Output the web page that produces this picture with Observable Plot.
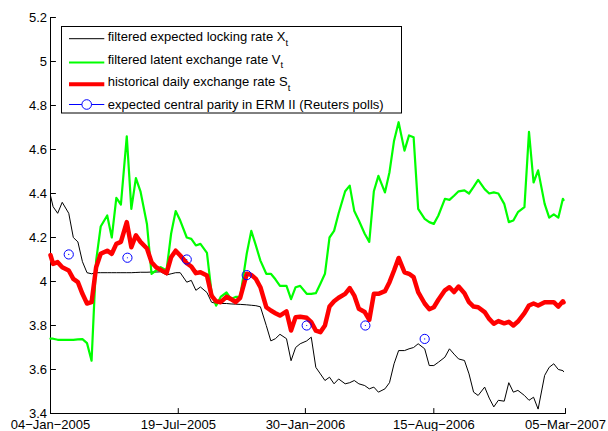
<!DOCTYPE html>
<html><head><meta charset="utf-8">
<script src="https://cdn.jsdelivr.net/npm/d3@7"></script>
<script src="https://cdn.jsdelivr.net/npm/@observablehq/plot@0.6"></script>
<style>
body{margin:0;background:#fff;}
#chart{position:relative;width:608px;height:431px;overflow:hidden;}
</style></head><body><div id="chart"></div>
<script>
const dates = [
"2005-01-04","2005-01-08","2005-01-15","2005-01-22",
"2005-02-01","2005-02-08","2005-02-15","2005-02-22",
"2005-03-01","2005-03-08","2005-03-15","2005-03-22",
"2005-04-01","2005-04-08","2005-04-15","2005-04-22",
"2005-05-01","2005-05-08","2005-05-15","2005-05-22",
"2005-06-01","2005-06-08","2005-06-15","2005-06-22",
"2005-07-01","2005-07-08","2005-07-15","2005-07-22",
"2005-08-01","2005-08-08","2005-08-15","2005-08-22",
"2005-09-01","2005-09-08","2005-09-15","2005-09-22",
"2005-10-01","2005-10-08","2005-10-15","2005-10-22",
"2005-11-01","2005-11-08","2005-11-15","2005-11-22",
"2005-12-01","2005-12-08","2005-12-15","2005-12-22",
"2006-01-01","2006-01-08","2006-01-15","2006-01-22",
"2006-02-01","2006-02-08","2006-02-15","2006-02-22",
"2006-03-01","2006-03-08","2006-03-15","2006-03-22",
"2006-04-01","2006-04-08","2006-04-15","2006-04-22",
"2006-05-01","2006-05-08","2006-05-15","2006-05-22",
"2006-06-01","2006-06-08","2006-06-15","2006-06-22",
"2006-07-01","2006-07-08","2006-07-15","2006-07-22",
"2006-08-01","2006-08-08","2006-08-15","2006-08-22",
"2006-09-01","2006-09-08","2006-09-15","2006-09-22",
"2006-10-01","2006-10-08","2006-10-15","2006-10-22",
"2006-11-01","2006-11-08","2006-11-15","2006-11-22",
"2006-12-01","2006-12-08","2006-12-15","2006-12-22",
"2007-01-01","2007-01-08","2007-01-15","2007-01-22",
"2007-02-01","2007-02-08","2007-02-15","2007-02-22",
"2007-03-01","2007-03-02"];

const lockingRate = [
4.39,4.34,4.31,4.36, 4.31,4.20,4.18,4.09, 4.04,4.035,4.04,4.04,
4.04,4.04,4.04,4.04, 4.04,4.04,4.041,4.042, 4.042,4.043,4.043,4.044,
4.03,4.035,4.04,4.04, 3.997,4.005,3.96,3.975, 3.95,3.906,3.90,3.90,
3.90,3.898,3.897,3.896, 3.894,3.892,3.89,3.885, 3.80,3.73,3.74,3.76,
3.74,3.64,3.70,3.717, 3.73,3.747,3.61,3.58, 3.55,3.565,3.535,3.557,
3.535,3.54,3.55,3.535, 3.527,3.512,3.52,3.497, 3.512,3.54,3.626,3.686,
3.686,3.694,3.70,3.717, 3.694,3.618,3.618,3.633, 3.656,3.694,3.67,3.648,
3.641,3.58,3.497,3.482, 3.52,3.47,3.43,3.46, 3.456,3.54,3.497,3.505,
3.482,3.46,3.474,3.42, 3.573,3.61,3.626,3.60, 3.595,3.59];

const latentRate = [
3.74,3.74,3.735,3.735, 3.735,3.735,3.737,3.738, 3.72,3.64,4.095,4.25,
4.30,4.20,4.38,4.35, 4.66,4.33,4.47,4.41, 4.26,4.035,4.05,4.065,
4.05,4.217,4.32,4.277, 4.20,4.194,4.164,4.171, 4.13,3.95,3.89,3.93,
3.95,3.92,3.93,3.93, 4.126,4.23,4.164,4.095, 4.035,4.035,4.01,3.98,
3.98,3.92,3.974,3.98, 3.944,3.944,3.947,3.99, 4.035,4.20,4.23,4.31,
4.41,4.436,4.32,4.277, 4.217,4.18,4.41,4.48, 4.405,4.497,4.64,4.724,
4.595,4.664,4.656,4.33, 4.285,4.27,4.262,4.30, 4.376,4.371,4.39,4.41,
4.414,4.40,4.43,4.462, 4.42,4.40,4.405,4.40, 4.353,4.27,4.277,4.315,
4.338,4.68,4.45,4.505, 4.353,4.29,4.305,4.29, 4.376,4.37];

const historicalRate = [
4.12,4.08,4.088,4.065, 4.05,4.012,3.997,3.944, 3.90,3.906,4.065,4.126,
4.14,4.126,4.171,4.18, 4.27,4.156,4.21,4.18, 4.15,4.088,4.065,4.053,
4.038,4.11,4.14,4.118, 4.083,4.068,4.038,4.042, 4.027,3.936,3.91,3.906,
3.93,3.92,3.906,3.926, 4.035,4.03,4.012,3.974, 3.883,3.868,3.856,3.845,
3.864,3.777,3.838,3.84, 3.835,3.815,3.777,3.77, 3.80,3.886,3.91,3.926,
3.944,3.97,3.936,3.876, 3.861,3.826,3.944,3.944, 3.956,3.997,4.05,4.107,
4.042,4.035,4.02,3.952, 3.90,3.874,3.883,3.917, 3.96,3.974,3.952,3.977,
3.947,3.906,3.886,3.883, 3.861,3.83,3.808,3.82, 3.81,3.817,3.80,3.818,
3.856,3.891,3.90,3.891, 3.906,3.906,3.906,3.886, 3.91,3.905];

const parityDates = ["2005-02-01","2005-05-02","2005-08-01","2005-11-01","2006-02-01","2006-05-02","2006-08-01"];
const parityValues = [4.123,4.108,4.10,4.029,3.80,3.80,3.739];

const xTickDates = ["2005-01-04","2005-07-19","2006-01-30","2006-08-15","2007-03-05"];
const xTickLabels = ["04\u2212Jan\u22122005","19\u2212Jul\u22122005","30\u2212Jan\u22122006","15\u2212Aug\u22122006","05\u2212Mar\u22122007"];
const yTicks = [3.4,3.6,3.8,4.0,4.2,4.4,4.6,4.8,5.0,5.2];
const yTickLabels = ["3.4","3.6","3.8","4","4.2","4.4","4.6","4.8","5","5.2"];
const xDomain = ["2005-01-04","2007-03-05"];
const yDomain = [3.4,5.2];

const legendItems = [
  {text:"filtered expected locking rate X", sub:"t", color:"#000000", width:1, marker:false},
  {text:"filtered latent exchange rate V", sub:"t", color:"#00ff00", width:2.2, marker:false},
  {text:"historical daily exchange rate S", sub:"t", color:"#ff0000", width:4, marker:false},
  {text:"expected central parity in ERM II (Reuters polls)", sub:"", color:"#0000ff", width:1, marker:true}
];

const parse = d3.utcParse("%Y-%m-%d");
const series = vals => dates.map((d,i) => ({date: parse(d), value: vals[i]}));
const parity = parityDates.map((d,i) => ({date: parse(d), value: parityValues[i]}));
const xTicks = xTickDates.map(parse);
const xLabelMap = new Map(xTickDates.map((d,i) => [+parse(d), xTickLabels[i]]));
const yLabelMap = new Map(yTicks.map((d,i) => [d.toFixed(1), yTickLabels[i]]));
const tickUp = {draw(ctx, l){ ctx.moveTo(0,0); ctx.lineTo(0,-l); }};

const chart = Plot.plot({
  width: 608, height: 431,
  marginLeft: 50, marginRight: 43, marginTop: 17, marginBottom: 18,
  style: {fontFamily: "'Liberation Sans', Arial, Helvetica, sans-serif", fontSize: "13px", background: "white", color: "black", overflow: "visible"},
  x: {type: "utc", domain: xDomain.map(parse)},
  y: {domain: yDomain},
  marks: [
    Plot.axisX({ticks: xTicks, tickFormat: d => xLabelMap.get(+d), tickSize: 0, tickPadding: 6.5, label: null, fontSize: 13}),
    Plot.axisY({ticks: yTicks, tickFormat: d => yLabelMap.get((+d).toFixed(1)), tickSize: 0, tickPadding: 3.5, label: null, fontSize: 13}),
    Plot.ruleX([parse(xDomain[0])], {stroke: "black", strokeWidth: 1}),
    Plot.ruleY([yDomain[0]], {stroke: "black", strokeWidth: 1}),
    Plot.vector(xTicks, {x: d => d, y: () => yDomain[0], length: 5, rotate: 0, anchor: "start", shape: tickUp, stroke: "black", strokeWidth: 1}),
    Plot.vector(yTicks, {x: () => parse(xDomain[0]), y: d => d, length: 5, rotate: 90, anchor: "start", shape: tickUp, stroke: "black", strokeWidth: 1}),
    Plot.lineY(series(lockingRate), {x: "date", y: "value", stroke: "#000000", strokeWidth: 1}),
    Plot.lineY(series(latentRate), {x: "date", y: "value", stroke: "#00ff00", strokeWidth: 2.2}),
    Plot.lineY(series(historicalRate), {x: "date", y: "value", stroke: "#ff0000", strokeWidth: 4.5}),
    Plot.dot(parity, {x: "date", y: "value", r: 4.6, stroke: "#0000ff", strokeWidth: 1, fill: "none"}),
    Plot.dot(parity, {x: "date", y: "value", r: 0.6, fill: "#0000ff", stroke: "none"})
  ]
});
document.getElementById("chart").appendChild(chart);

// legend box
const svg = d3.select(chart);
const lg = svg.append("g")
  .attr("font-family", "'Liberation Sans', Arial, Helvetica, sans-serif")
  .attr("font-size", 13)
  .attr("text-anchor", "start");
lg.append("rect").attr("x", 61.5).attr("y", 26.5).attr("width", 340).attr("height", 86.5)
  .attr("fill", "white").attr("stroke", "black").attr("stroke-width", 1);
const rowLine = [38.7, 62.5, 84.3, 104.5];
const rowText = [41, 63.5, 86.3, 109.3];
legendItems.forEach((it, i) => {
  const y = rowLine[i];
  lg.append("line").attr("x1", 69).attr("x2", 104.3).attr("y1", y).attr("y2", y)
    .attr("stroke", it.color).attr("stroke-width", it.width);
  if (it.marker) lg.append("circle").attr("cx", 86.7).attr("cy", y).attr("r", 4.8)
    .attr("fill", "white").attr("stroke", it.color).attr("stroke-width", 1);
  const t = lg.append("text").attr("x", 107.7).attr("y", rowText[i]).attr("fill", "black").attr("text-anchor", "start");
  t.append("tspan").text(it.text);
  if (it.sub) t.append("tspan").attr("dy", 4.5).attr("font-size", 9.5).text(it.sub);
});
</script></body></html>
